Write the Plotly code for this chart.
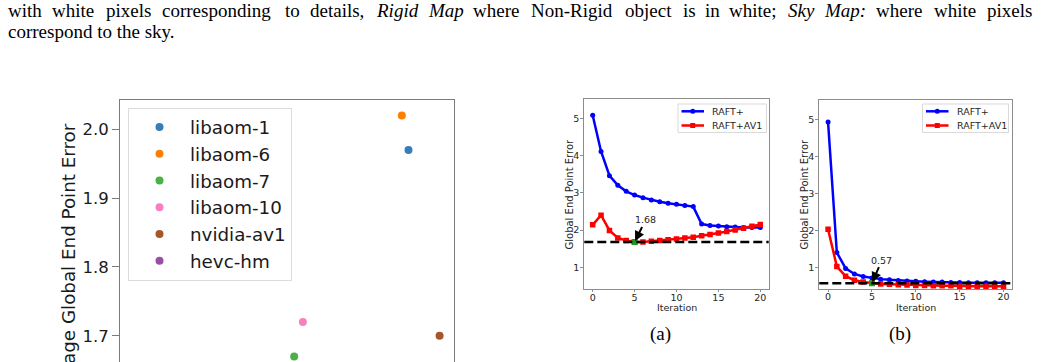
import plotly.graph_objects as go

W, H = 1041, 362

# ---------------- data ----------------
codecs = ["libaom-1", "libaom-6", "libaom-7", "libaom-10", "nvidia-av1", "hevc-hm"]
codec_x = [8.63, 8.43, 5.21, 5.47, 9.56, 2.0]
codec_epe = [1.97, 2.02, 1.67, 1.72, 1.70, 1.60]
codec_colors = ["#377eb8", "#ff7f00", "#4daf4a", "#f781bf", "#a65628", "#984ea3"]

iterations = list(range(21))
a_raft = [5.08, 4.11, 3.46, 3.20, 3.04, 2.94, 2.87, 2.81, 2.76, 2.72, 2.69, 2.66, 2.63,
          2.16, 2.12, 2.11, 2.09, 2.08, 2.07, 2.07, 2.07]
a_raft_av1 = [2.14, 2.40, 1.99, 1.79, 1.72, 1.68, 1.68, 1.70, 1.72, 1.74, 1.76, 1.79, 1.81,
              1.85, 1.88, 1.92, 1.96, 2.00, 2.05, 2.10, 2.15]
b_raft = [4.93, 1.40, 0.97, 0.82, 0.75, 0.71, 0.68, 0.66, 0.64, 0.63, 0.62, 0.61, 0.60,
          0.60, 0.59, 0.59, 0.58, 0.58, 0.58, 0.58, 0.58]
b_raft_av1 = [2.03, 1.02, 0.76, 0.65, 0.60, 0.57, 0.55, 0.54, 0.53, 0.52, 0.51, 0.51, 0.50,
              0.50, 0.50, 0.49, 0.49, 0.49, 0.49, 0.49, 0.49]
best_iter = [5, 5]
best_value = [1.68, 0.57]
best_labels = ["1.68", "0.57"]
series_names = ["RAFT+", "RAFT+AV1"]
captions = ["(a)", "(b)"]

line1_words = ["with", "white", "pixels", "corresponding", "to", "details,", "<i>Rigid</i>",
               "<i>Map</i>", "where", "Non-Rigid", "object", "is", "in", "white;",
               "<i>Sky</i>", "<i>Map:</i>", "where", "white", "pixels"]
line2_text = "correspond to the sky."

# ---------------- helpers ----------------
def px(x):
    return x / W

def py(y):
    return 1 - y / H

fig = go.Figure()

# ---------------- scatter panel ----------------
for name, xv, yv, c in zip(codecs, codec_x, codec_epe, codec_colors):
    fig.add_trace(go.Scatter(x=[xv], y=[yv], mode="markers", name=name,
                             marker=dict(color=c, size=8), xaxis="x", yaxis="y",
                             legendgroup=name, legend="legend"))

# ---------------- line panels ----------------
panels = [("x2", "y2", a_raft, a_raft_av1), ("x3", "y3", b_raft, b_raft_av1)]
for i, (xa, ya, s1, s2) in enumerate(panels):
    fig.add_trace(go.Scatter(x=iterations, y=s1, mode="lines+markers", name=series_names[0],
                             line=dict(color="blue", width=2.5),
                             marker=dict(symbol="circle", size=5, color="blue"),
                             xaxis=xa, yaxis=ya, showlegend=False))
    fig.add_trace(go.Scatter(x=iterations, y=s2, mode="lines+markers", name=series_names[1],
                             line=dict(color="red", width=2.5),
                             marker=dict(symbol="square", size=5.5, color="red"),
                             xaxis=xa, yaxis=ya, showlegend=False))
    fig.add_trace(go.Scatter(x=[best_iter[i]], y=[best_value[i]], mode="markers",
                             marker=dict(symbol="square", size=6, color="#1e9a1e"),
                             xaxis=xa, yaxis=ya, showlegend=False))
    fig.add_shape(type="line", xref=f"{xa} domain", yref=ya, x0=0, x1=1,
                  y0=best_value[i], y1=best_value[i],
                  line=dict(color="black", width=2.5, dash="9px,4px"))

# ---------------- axes ----------------
gray = "#7a7a7a"
big = 18.3
fig.update_layout(
    xaxis=dict(domain=[px(120), px(454.3)], range=[0, 10], side="top", showline=True,
               linecolor=gray, linewidth=1, mirror=False, showticklabels=False, ticks="",
               showgrid=False, zeroline=False),
    yaxis=dict(domain=[0, py(100)], range=[1.662, 2.0425], showline=True, linecolor=gray,
               linewidth=1, mirror=True, ticks="outside", ticklen=7, tickcolor=gray,
               tickvals=[1.7, 1.8, 1.9, 2.0], ticktext=["1.7", "1.8", "1.9", "2.0"],
               tickfont=dict(family="DejaVu Sans", size=16.5, color="#1a1a1a"),
               showgrid=False, zeroline=False),
)

rgray = "#8c8c8c"
tickf = dict(family="DejaVu Sans", size=9.5, color="#262626")
common_x = dict(range=[-1, 21], showline=True, linecolor=rgray, linewidth=1, mirror=True,
                ticks="outside", ticklen=2, tickcolor=rgray, tickvals=[0, 5, 10, 15, 20],
                tickfont=tickf, showgrid=False, zeroline=False, ticklabelstandoff=-3)
common_y = dict(showline=True, linecolor=rgray, linewidth=1, mirror=True,
                ticks="outside", ticklen=3, tickcolor=rgray, tickvals=[1, 2, 3, 4, 5],
                tickfont=tickf, showgrid=False, zeroline=False, ticklabelstandoff=-1)
fig.update_layout(
    xaxis2=dict(common_x, domain=[px(584.3), px(768.7)], anchor="y2"),
    yaxis2=dict(common_y, domain=[py(289.3), py(99.3)], range=[0.41, 5.51], anchor="x2"),
    xaxis3=dict(common_x, domain=[px(819.3), px(1012.3)], anchor="y3"),
    yaxis3=dict(common_y, domain=[py(289), py(99.7)], range=[0.413, 5.536], anchor="x3"),
)

# ---------------- annotations ----------------
ann = []
# cut-off y title of scatter panel
ann.append(dict(text="Average Global End Point Error", textangle=-90, xref="paper", yref="paper",
                x=px(68.5), y=py(121.5), xanchor="center", yanchor="top", showarrow=False,
                font=dict(family="DejaVu Sans", size=big, color="#1a1a1a")))
# axis titles of the line panels
for cx in [676.5, 915.8]:
    ann.append(dict(text="Iteration", x=px(cx), y=py(307.5), xref="paper", yref="paper",
                    showarrow=False, xanchor="center", yanchor="middle",
                    font=dict(family="DejaVu Sans", size=9.5, color="#262626")))
for cx in [569, 804]:
    ann.append(dict(text="Global End Point Error", textangle=-90, x=px(cx), y=py(194.5),
                    xref="paper", yref="paper", showarrow=False, xanchor="center",
                    yanchor="middle",
                    font=dict(family="DejaVu Sans", size=10, color="#262626")))
# best-value arrows
arrow_off = [(11, -22), (10, -23)]
for i, (xa, ya) in enumerate([("x2", "y2"), ("x3", "y3")]):
    ann.append(dict(text=best_labels[i], x=best_iter[i], y=best_value[i], xref=xa, yref=ya,
                    ax=arrow_off[i][0], ay=arrow_off[i][1], showarrow=True, arrowhead=2,
                    arrowsize=1, arrowwidth=2, arrowcolor="black", standoff=1,
                    font=dict(family="DejaVu Sans", size=9.5, color="#262626")))
# captions
for cx, cap in zip([660.7, 899.5], captions):
    ann.append(dict(text=cap, x=px(cx), y=py(334), xref="paper", yref="paper", showarrow=False,
                    xanchor="center", yanchor="middle",
                    font=dict(family="Liberation Serif", size=19, color="black")))
# top paragraph text (justified line: word start positions)
word_x = [7, 51.4, 104.5, 161.1, 284.2, 308.6, 374.5, 426.6, 472, 529.7, 624, 681.7, 703.7,
          728.1, 786.8, 823.4, 875.4, 933.1, 986.2]
for wx, wd in zip(word_x, line1_words):
    ann.append(dict(text=wd, x=px(wx), y=py(10.6), xref="paper", yref="paper", showarrow=False,
                    xanchor="left", yanchor="middle", borderpad=0,
                    font=dict(family="Liberation Serif", size=19, color="black")))
ann.append(dict(text=line2_text, x=px(7), y=py(31.6), xref="paper", yref="paper", showarrow=False,
                xanchor="left", yanchor="middle", borderpad=0,
                font=dict(family="Liberation Serif", size=19, color="black")))

# manual small legends for the two line panels
shapes = []
for lx, ly, bw in [(678, 104, 88.5), (922.5, 104, 86)]:
    bh = 28.5
    shapes.append(dict(type="rect", xref="paper", yref="paper", x0=px(lx), x1=px(lx + bw),
                       y0=py(ly + bh), y1=py(ly), line=dict(color="#d9d9d9", width=1),
                       fillcolor="white", layer="above"))
    for j, (nm, col, sym) in enumerate(zip(series_names, ["blue", "red"], ["circle", "rect"])):
        cy = ly + 7.3 + 14.2 * j
        shapes.append(dict(type="line", xref="paper", yref="paper", x0=px(lx + 3.5),
                           x1=px(lx + 26), y0=py(cy), y1=py(cy),
                           line=dict(color=col, width=2.5), layer="above"))
        r = 2.5
        shapes.append(dict(type="circle" if sym == "circle" else "rect", xref="paper",
                           yref="paper", x0=px(lx + 14.75 - r), x1=px(lx + 14.75 + r),
                           y0=py(cy + r), y1=py(cy - r), fillcolor=col,
                           line=dict(color=col, width=0), layer="above"))
        ann.append(dict(text=nm, x=px(lx + 32), y=py(cy), xref="paper", yref="paper",
                        showarrow=False, xanchor="left", yanchor="middle",
                        font=dict(family="DejaVu Sans", size=9.5, color="#262626")))

fig.update_layout(
    annotations=ann,
    width=W, height=H, margin=dict(l=0, r=0, t=0, b=0),
    paper_bgcolor="white", plot_bgcolor="white",
    legend=dict(x=px(128), y=py(107.5), xanchor="left", yanchor="top", bgcolor="white",
                bordercolor="#dcdcdc", borderwidth=1, itemwidth=51,
                font=dict(family="DejaVu Sans", size=big, color="#1a1a1a"),
                tracegroupgap=0),
)
fig.layout.shapes = list(fig.layout.shapes) + [go.layout.Shape(**s) for s in shapes]

fig.write_html("out.html")
